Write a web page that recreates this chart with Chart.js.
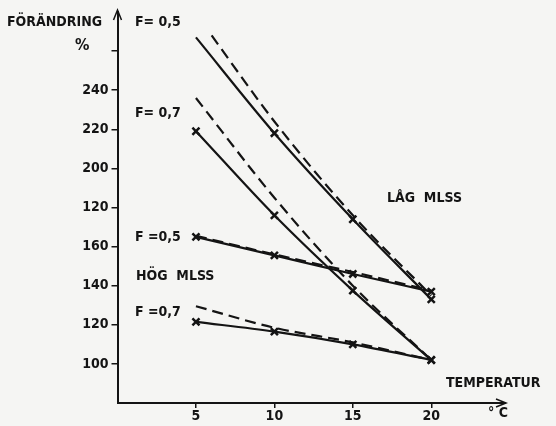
<!DOCTYPE html>
<html lang="sv">
<head>
  <meta charset="UTF-8" />
  <title>Förändring mot temperatur</title>
  <script src="https://cdn.jsdelivr.net/npm/chart.js"></script>
  <style>
    body {
      margin: 0;
      background-color: #f5f5f3;
    }
    #chart {
      display: block;
    }
  </style>
</head>
<body>
  <canvas id="chart" width="556" height="426"></canvas>

  <script>
    // temperatur (°C) och förändring (%)
    const temps = [5, 10, 15, 20];
    const lagF05DashTemps = [6, 10, 15, 20];

    const lagF05Solid = [267, 218, 174, 133];
    const lagF05Dashed = [268, 224, 176, 135];
    const lagF07Solid = [219, 176, 137.5, 102];
    const lagF07Dashed = [236, 185, 140, 102];
    const hogF05Solid = [165, 155.5, 146, 137];
    const hogF05Dashed = [165.5, 156, 147, 137.5];
    const hogF07Solid = [121.5, 116.5, 110, 102];
    const hogF07Dashed = [129.5, 118.5, 111, 102];

    const xTicks = [5, 10, 15, 20];
    const yTicks = [100, 120, 140, 160, 180, 200, 220, 240, 260];
    const yTickLabels = ['100', '120', '140', '160', '120', '200', '220', '240', ''];

    const ink = '#141414';
    const font = "'DejaVu Sans Condensed', 'DejaVu Sans', sans-serif";

    function pts(xs, ys) {
      return xs.map((x, i) => ({ x: x, y: ys[i] }));
    }

    function solid(xs, ys, radius) {
      return {
        data: pts(xs, ys),
        borderColor: ink,
        borderWidth: 2.2,
        pointStyle: 'crossRot',
        pointRadius: radius || 5,
        pointBorderWidth: 2.5,
        pointBorderColor: ink,
        cubicInterpolationMode: 'monotone'
      };
    }

    function dashed(xs, ys) {
      return {
        data: pts(xs, ys),
        borderColor: ink,
        borderWidth: 2.2,
        borderDash: [11, 6],
        pointRadius: 0,
        cubicInterpolationMode: 'monotone'
      };
    }

    // texter och pilar runt diagrammet
    const notes = {
      id: 'notes',
      afterDraw(chart) {
        const ctx = chart.ctx;
        const a = chart.chartArea;
        ctx.save();
        ctx.fillStyle = ink;
        ctx.strokeStyle = ink;
        ctx.textBaseline = 'middle';
        ctx.font = 'bold 14px ' + font;
        ctx.fillText('FÖRÄNDRING', 7, 22);
        ctx.fillText('F= 0,5', 135, 22);
        ctx.fillText('F= 0,7', 135, 113);
        ctx.fillText('F =0,5', 135, 237);
        ctx.fillText('HÖG  MLSS', 136, 276);
        ctx.fillText('F =0,7', 135, 312);
        ctx.fillText('LÅG  MLSS', 387, 198);
        ctx.fillText('TEMPERATUR', 446, 383);
        ctx.fillText('° C', 488, 413);
        ctx.font = 'bold 16px ' + font;
        ctx.fillText('%', 75, 46);

        // pilspetsar på axlarna
        ctx.beginPath();
        ctx.moveTo(a.left - 4, a.top + 8);
        ctx.lineTo(a.left, a.top - 2);
        ctx.lineTo(a.left + 4, a.top + 8);
        ctx.moveTo(a.right - 9, a.bottom - 4);
        ctx.lineTo(a.right + 1, a.bottom);
        ctx.lineTo(a.right - 9, a.bottom + 4);
        ctx.lineWidth = 1.5;
        ctx.stroke();
        ctx.restore();
      }
    };

    new Chart(document.getElementById('chart'), {
      type: 'line',
      data: {
        datasets: [
          solid(temps, lagF05Solid, [0, 5, 5, 5]),
          dashed(lagF05DashTemps, lagF05Dashed),
          solid(temps, lagF07Solid),
          dashed(temps, lagF07Dashed),
          solid(temps, hogF05Solid),
          dashed(temps, hogF05Dashed),
          solid(temps, hogF07Solid),
          dashed(temps, hogF07Dashed)
        ]
      },
      options: {
        responsive: false,
        animation: false,
        layout: { padding: { top: 12, right: 51, left: 0, bottom: 0 } },
        plugins: {
          legend: { display: false },
          tooltip: { enabled: false }
        },
        scales: {
          x: {
            type: 'linear',
            min: 0,
            max: 24.7,
            afterBuildTicks: s => { s.ticks = xTicks.map(v => ({ value: v })); },
            afterFit: s => { s.height = 23; },
            grid: { drawOnChartArea: false, tickLength: 5, color: ink, lineWidth: 1.5 },
            border: { color: ink, width: 2 },
            ticks: { color: ink, font: { family: font, size: 14, weight: 'bold' }, padding: 0 }
          },
          y: {
            min: 80,
            max: 280,
            afterBuildTicks: s => { s.ticks = yTicks.map(v => ({ value: v })); },
            afterFit: s => { s.width = 117.5; },
            grid: { drawOnChartArea: false, tickLength: 6, color: ink, lineWidth: 1.5 },
            border: { color: ink, width: 2 },
            ticks: {
              color: ink,
              font: { family: font, size: 14, weight: 'bold' },
              padding: 3,
              callback: (v) => yTickLabels[yTicks.indexOf(v)]
            }
          }
        }
      },
      plugins: [notes]
    });
  </script>
</body>
</html>
